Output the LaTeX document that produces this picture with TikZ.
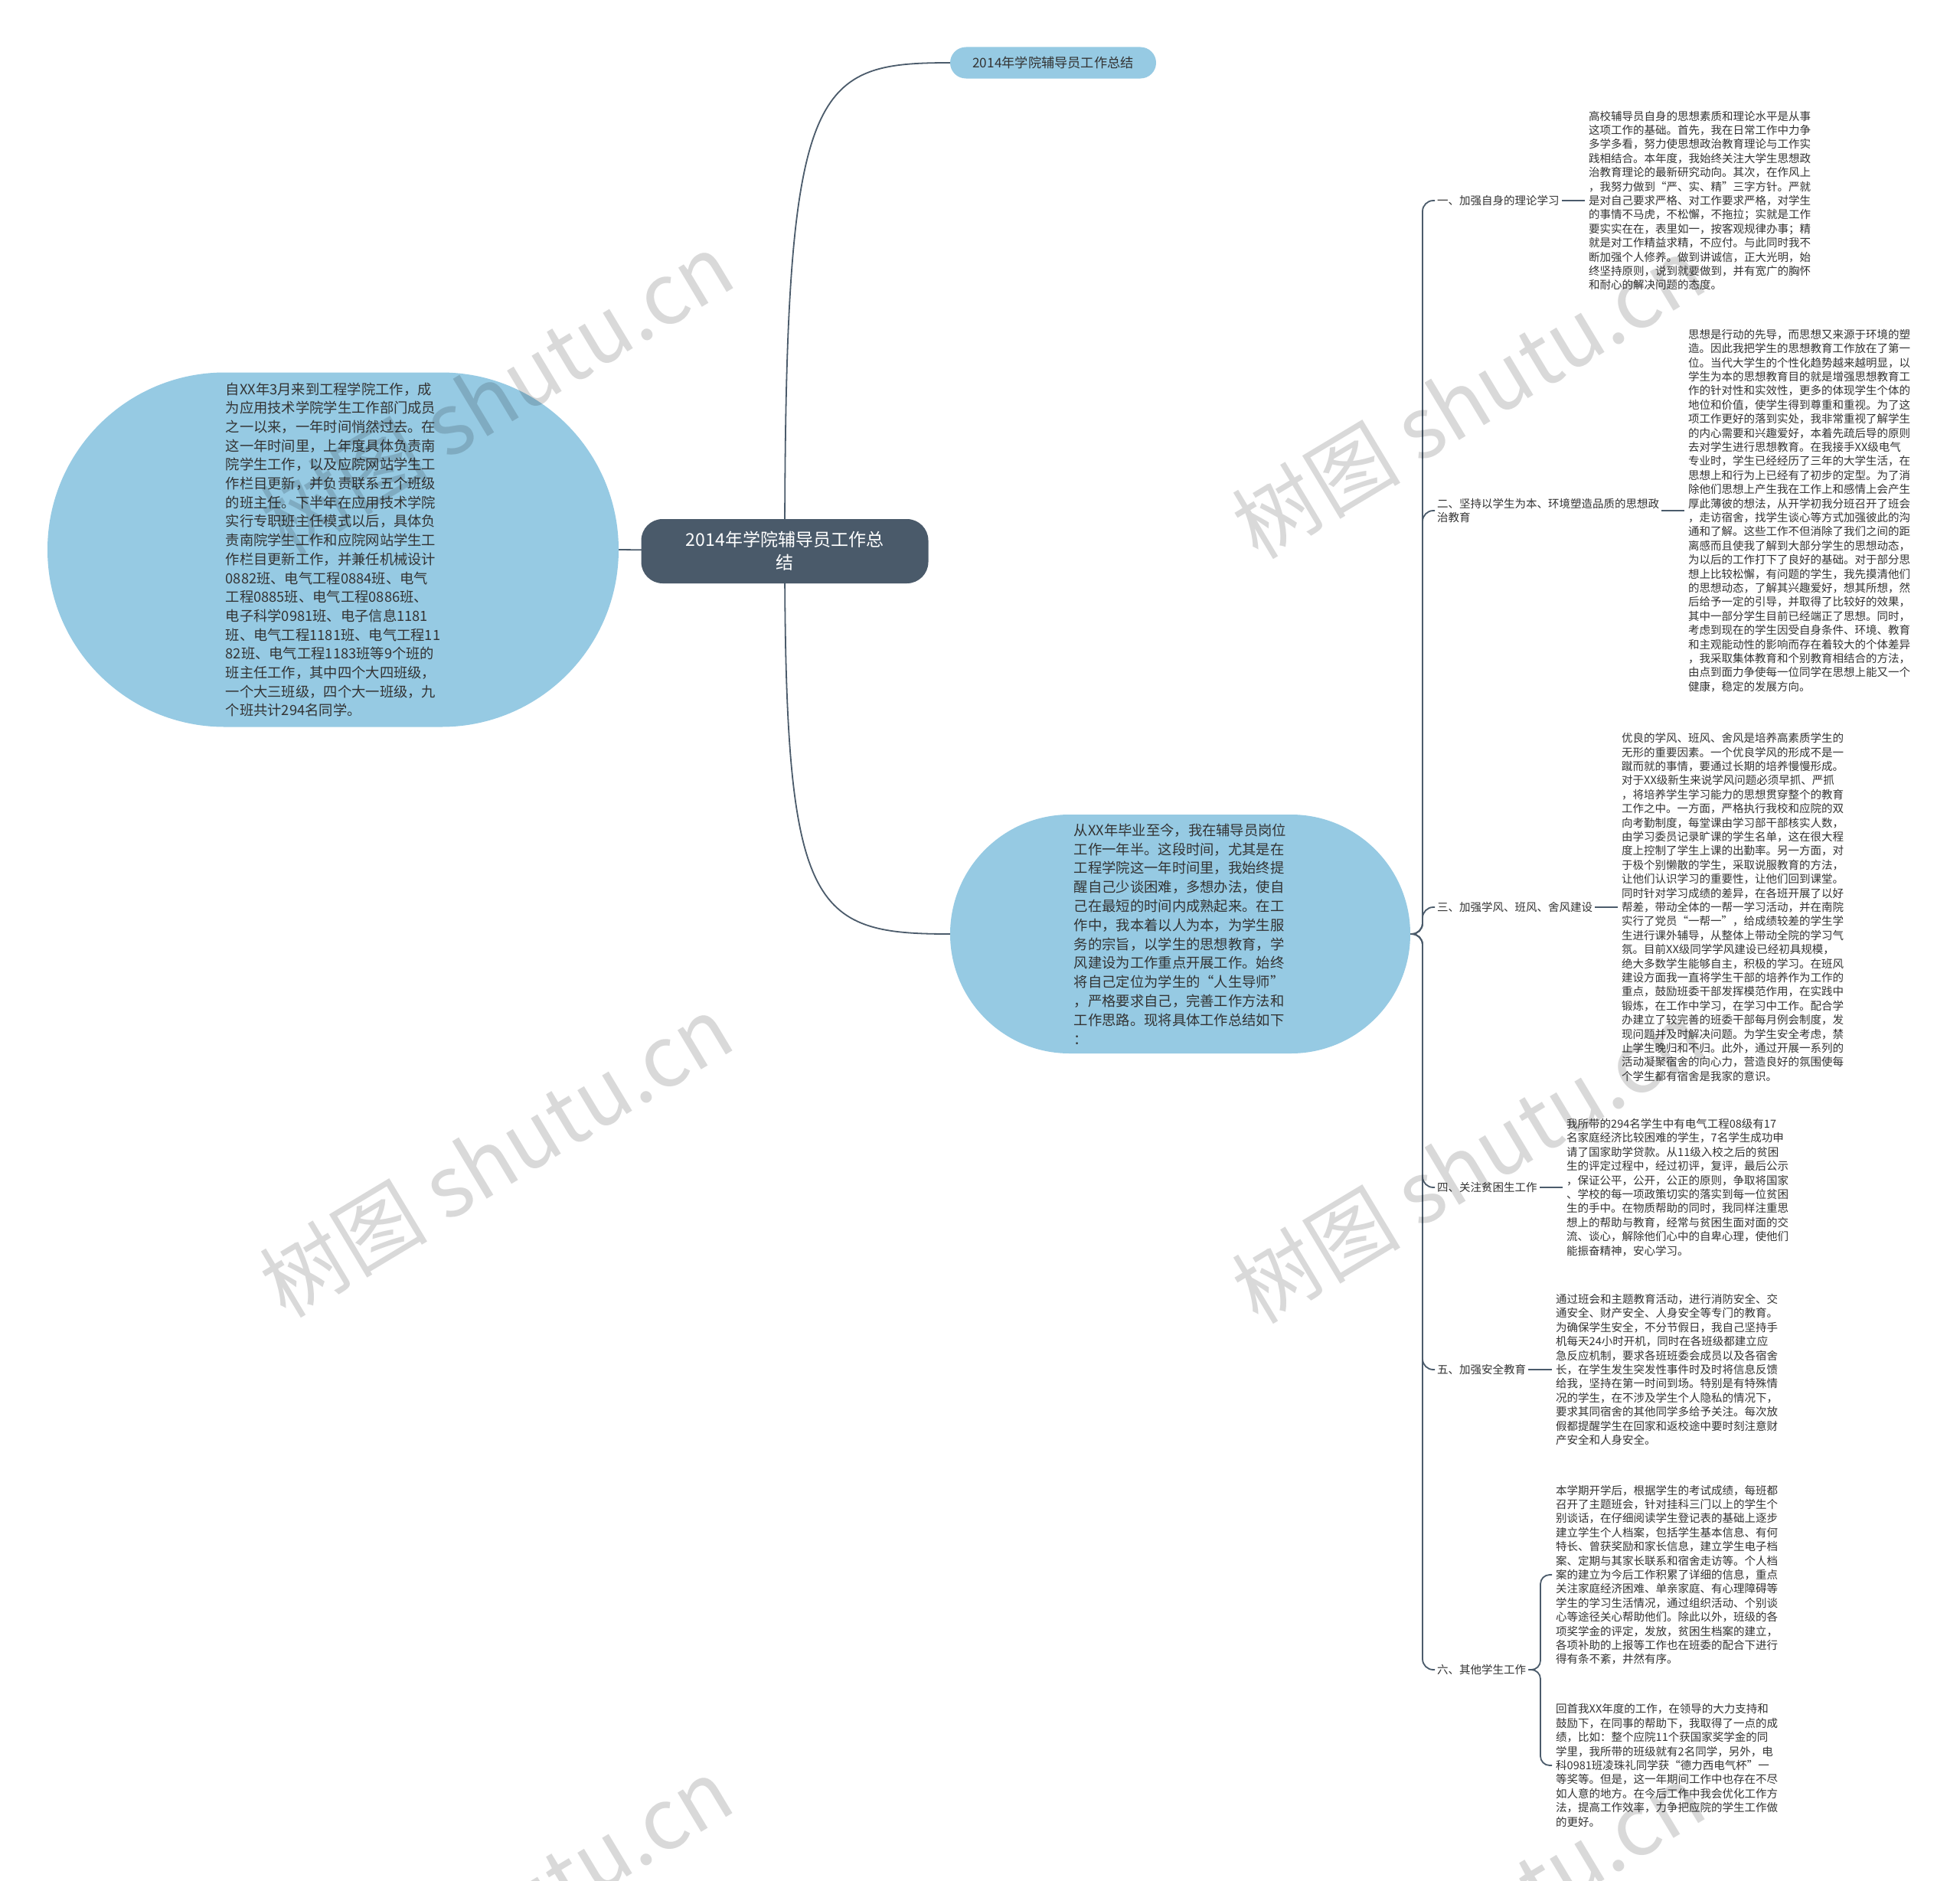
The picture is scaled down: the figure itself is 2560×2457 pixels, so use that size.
\documentclass[tikz,border=0pt]{standalone}
\usepackage{fontspec}
\setmainfont{Noto Sans CJK SC}
\usetikzlibrary{shapes.misc}
\definecolor{lineC}{HTML}{4B5B6B}
\definecolor{bubble}{HTML}{96CAE3}
\definecolor{rootC}{HTML}{4A5A6A}
\definecolor{txt}{HTML}{333333}
\pgfdeclarelayer{back}
\pgfdeclarelayer{bg}
\pgfsetlayers{back,bg,main}
\begin{document}
\begin{tikzpicture}[x=1pt,y=-1pt,
  conn/.style={draw=lineC, line width=1.8pt},
  blk/.style={anchor=west, align=left, inner xsep=5pt, inner ysep=2pt, text=txt, font=\fontsize{14.5}{18.4}\selectfont},
  lbl/.style={anchor=west, align=left, inner xsep=3pt, inner ysep=2pt, text=txt, font=\fontsize{14.5}{18.4}\selectfont},
  bubbleN/.style={shape=rounded rectangle, fill=bubble, inner sep=0pt, align=left, text=txt},
  wm/.style={text=black, text opacity=0.15, font=\fontsize{110}{110}\selectfont, rotate=31}
]
\useasboundingbox (0,0) rectangle (2560,2457);
\begin{pgfonlayer}{back}
\fill[white] (0,0) rectangle (2560,2457);
\end{pgfonlayer}

% main nodes
\node[fill=rootC, rounded corners=28pt, minimum width=375pt, minimum height=84pt, text=white, align=center, font=\fontsize{23}{30}\selectfont] (root) at (1025,720) {2014年学院辅导员工作总\\结};

\node[shape=rounded rectangle, fill=bubble, minimum width=269pt, minimum height=41pt, inner sep=0pt, text=txt, font=\fontsize{17.2}{20}\selectfont] (top) at (1375.5,82) {2014年学院辅导员工作总结};

\node[bubbleN, minimum width=746pt, minimum height=463pt, font=\fontsize{18.3}{24.7}\selectfont] (lft) at (435,718) {自XX年3月来到工程学院工作，成\\
为应用技术学院学生工作部门成员\\
之一以来，一年时间悄然过去。在\\
这一年时间里，上年度具体负责南\\
院学生工作，以及应院网站学生工\\
作栏目更新，并负责联系五个班级\\
的班主任。下半年在应用技术学院\\
实行专职班主任模式以后，具体负\\
责南院学生工作和应院网站学生工\\
作栏目更新工作，并兼任机械设计\\
0882班、电气工程0884班、电气\\
工程0885班、电气工程0886班、\\
电子科学0981班、电子信息1181\\
班、电气工程1181班、电气工程11\\
82班、电气工程1183班等9个班的\\
班主任工作，其中四个大四班级，\\
一个大三班级，四个大一班级，九\\
个班共计294名同学。};

\node[bubbleN, minimum width=601pt, minimum height=312pt, font=\fontsize{18.3}{24.8}\selectfont] (mid) at (1541.5,1220) {从XX年毕业至今，我在辅导员岗位\\
工作一年半。这段时间，尤其是在\\
工程学院这一年时间里，我始终提\\
醒自己少谈困难，多想办法，使自\\
己在最短的时间内成熟起来。在工\\
作中，我本着以人为本，为学生服\\
务的宗旨，以学生的思想教育，学\\
风建设为工作重点开展工作。始终\\
将自己定位为学生的“人生导师”\\
，严格要求自己，完善工作方法和\\
工作思路。现将具体工作总结如下\\
：};

% branch labels
\node[lbl] (l1) at (1874,262) {一、加强自身的理论学习};
\node[lbl] (l2) at (1874,667) {二、坚持以学生为本、环境塑造品质的思想政\\治教育};
\node[lbl] (l3) at (1874,1185) {三、加强学风、班风、舍风建设};
\node[lbl] (l4) at (1874,1551) {四、关注贫困生工作};
\node[lbl] (l5) at (1874,1789) {五、加强安全教育};
\node[lbl] (l6) at (1874,2181) {六、其他学生工作};

% text blocks
\node[blk] (b1) at (2070,262) {高校辅导员自身的思想素质和理论水平是从事\\
这项工作的基础。首先，我在日常工作中力争\\
多学多看，努力使思想政治教育理论与工作实\\
践相结合。本年度，我始终关注大学生思想政\\
治教育理论的最新研究动向。其次，在作风上\\
，我努力做到“严、实、精”三字方针。严就\\
是对自己要求严格、对工作要求严格，对学生\\
的事情不马虎，不松懈，不拖拉；实就是工作\\
要实实在在，表里如一，按客观规律办事；精\\
就是对工作精益求精，不应付。与此同时我不\\
断加强个人修养。做到讲诚信，正大光明，始\\
终坚持原则，说到就要做到，并有宽广的胸怀\\
和耐心的解决问题的态度。};

\node[blk] (b2) at (2200,667) {思想是行动的先导，而思想又来源于环境的塑\\
造。因此我把学生的思想教育工作放在了第一\\
位。当代大学生的个性化趋势越来越明显，以\\
学生为本的思想教育目的就是增强思想教育工\\
作的针对性和实效性，更多的体现学生个体的\\
地位和价值，使学生得到尊重和重视。为了这\\
项工作更好的落到实处，我非常重视了解学生\\
的内心需要和兴趣爱好，本着先疏后导的原则\\
去对学生进行思想教育。在我接手XX级电气\\
专业时，学生已经经历了三年的大学生活，在\\
思想上和行为上已经有了初步的定型。为了消\\
除他们思想上产生我在工作上和感情上会产生\\
厚此薄彼的想法，从开学初我分班召开了班会\\
，走访宿舍，找学生谈心等方式加强彼此的沟\\
通和了解。这些工作不但消除了我们之间的距\\
离感而且使我了解到大部分学生的思想动态，\\
为以后的工作打下了良好的基础。对于部分思\\
想上比较松懈，有问题的学生，我先摸清他们\\
的思想动态，了解其兴趣爱好，想其所想，然\\
后给予一定的引导，并取得了比较好的效果，\\
其中一部分学生目前已经端正了思想。同时，\\
考虑到现在的学生因受自身条件、环境、教育\\
和主观能动性的影响而存在着较大的个体差异\\
，我采取集体教育和个别教育相结合的方法，\\
由点到面力争使每一位同学在思想上能又一个\\
健康，稳定的发展方向。};

\node[blk] (b3) at (2113,1185) {优良的学风、班风、舍风是培养高素质学生的\\
无形的重要因素。一个优良学风的形成不是一\\
蹴而就的事情，要通过长期的培养慢慢形成。\\
对于XX级新生来说学风问题必须早抓、严抓\\
，将培养学生学习能力的思想贯穿整个的教育\\
工作之中。一方面，严格执行我校和应院的双\\
向考勤制度，每堂课由学习部干部核实人数，\\
由学习委员记录旷课的学生名单，这在很大程\\
度上控制了学生上课的出勤率。另一方面，对\\
于极个别懒散的学生，采取说服教育的方法，\\
让他们认识学习的重要性，让他们回到课堂。\\
同时针对学习成绩的差异，在各班开展了以好\\
帮差，带动全体的一帮一学习活动，并在南院\\
实行了党员“一帮一”，给成绩较差的学生学\\
生进行课外辅导，从整体上带动全院的学习气\\
氛。目前XX级同学学风建设已经初具规模，\\
绝大多数学生能够自主，积极的学习。在班风\\
建设方面我一直将学生干部的培养作为工作的\\
重点，鼓励班委干部发挥模范作用，在实践中\\
锻炼，在工作中学习，在学习中工作。配合学\\
办建立了较完善的班委干部每月例会制度，发\\
现问题并及时解决问题。为学生安全考虑，禁\\
止学生晚归和不归。此外，通过开展一系列的\\
活动凝聚宿舍的向心力，营造良好的氛围使每\\
个学生都有宿舍是我家的意识。};

\node[blk] (b4) at (2041,1551) {我所带的294名学生中有电气工程08级有17\\
名家庭经济比较困难的学生，7名学生成功申\\
请了国家助学贷款。从11级入校之后的贫困\\
生的评定过程中，经过初评，复评，最后公示\\
，保证公平，公开，公正的原则，争取将国家\\
、学校的每一项政策切实的落实到每一位贫困\\
生的手中。在物质帮助的同时，我同样注重思\\
想上的帮助与教育，经常与贫困生面对面的交\\
流、谈心，解除他们心中的自卑心理，使他们\\
能振奋精神，安心学习。};

\node[blk] (b5) at (2027,1789) {通过班会和主题教育活动，进行消防安全、交\\
通安全、财产安全、人身安全等专门的教育。\\
为确保学生安全，不分节假日，我自己坚持手\\
机每天24小时开机，同时在各班级都建立应\\
急反应机制，要求各班班委会成员以及各宿舍\\
长，在学生发生突发性事件时及时将信息反馈\\
给我，坚持在第一时间到场。特别是有特殊情\\
况的学生，在不涉及学生个人隐私的情况下，\\
要求其同宿舍的其他同学多给予关注。每次放\\
假都提醒学生在回家和返校途中要时刻注意财\\
产安全和人身安全。};

\node[blk] (b6a) at (2027,2057) {本学期开学后，根据学生的考试成绩，每班都\\
召开了主题班会，针对挂科三门以上的学生个\\
别谈话，在仔细阅读学生登记表的基础上逐步\\
建立学生个人档案，包括学生基本信息、有何\\
特长、曾获奖励和家长信息，建立学生电子档\\
案、定期与其家长联系和宿舍走访等。个人档\\
案的建立为今后工作积累了详细的信息，重点\\
关注家庭经济困难、单亲家庭、有心理障碍等\\
学生的学习生活情况，通过组织活动、个别谈\\
心等途径关心帮助他们。除此以外，班级的各\\
项奖学金的评定，发放，贫困生档案的建立，\\
各项补助的上报等工作也在班委的配合下进行\\
得有条不紊，井然有序。};

\node[blk] (b6b) at (2027,2306) {回首我XX年度的工作，在领导的大力支持和\\
鼓励下，在同事的帮助下，我取得了一点的成\\
绩，比如：整个应院11个获国家奖学金的同\\
学里，我所带的班级就有2名同学，另外，电\\
科0981班凌珠礼同学获“德力西电气杯”一\\
等奖等。但是，这一年期间工作中也存在不尽\\
如人意的地方。在今后工作中我会优化工作方\\
法，提高工作效率，力争把应院的学生工作做\\
的更好。};

% connectors
\begin{pgfonlayer}{bg}
\draw[conn] (root.center) .. controls (1025,110) and (1060,82) .. (top.west);
\draw[conn] (root.center) .. controls (1025,1190) and (1060,1220) .. (mid.west);
\draw[conn] (root.center) -- (lft.east);
\end{pgfonlayer}

\coordinate (br) at (1858,1220);
\foreach \k in {l1,l2,l3,l4,l5,l6}{
  \draw[conn, rounded corners=14pt] (mid.east) -- (br) |- (\k.west);
}
\draw[conn] (l1.east) -- (b1.west);
\draw[conn] (l2.east) -- (b2.west);
\draw[conn] (l3.east) -- (b3.west);
\draw[conn] (l4.east) -- (b4.west);
\draw[conn] (l5.east) -- (b5.west);
\coordinate (sb) at (2012,2181);
\draw[conn, rounded corners=12pt] (l6.east) -- (sb) |- (b6a.west);
\draw[conn, rounded corners=12pt] (l6.east) -- (sb) |- (b6b.west);

% watermarks
\node[wm] (w1) at (649,514) {树图 shutu.cn};
\node[wm] (w2) at (1918,519) {树图 shutu.cn};
\node[wm] (w3) at (648,1510) {树图 shutu.cn};
\node[wm] (w4) at (1918,1518) {树图 shutu.cn};
\node[wm] (w5) at (648,2506) {树图 shutu.cn};
\node[wm] (w6) at (1918,2514) {树图 shutu.cn};
\end{tikzpicture}
\end{document}
